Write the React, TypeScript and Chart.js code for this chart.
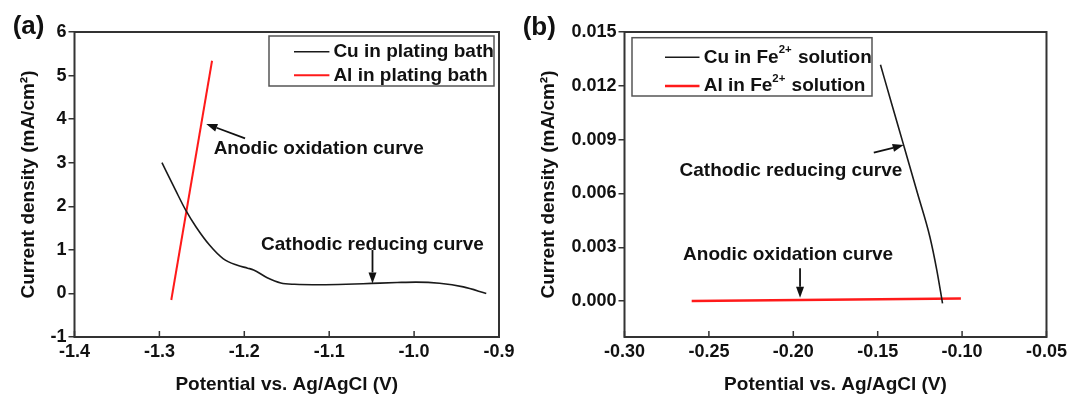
import React, { useEffect, useRef } from 'react';
import { Chart, registerables } from 'chart.js';
Chart.register(...registerables);

const FONT = '"Liberation Sans", Arial, Helvetica, sans-serif';
const INK = '#111';
const AXIS = '#333';

// ---------- Panel (a) data ----------
const cuBathX = [-1.297, -1.281, -1.269, -1.257, -1.241, -1.225, -1.209, -1.196, -1.189, -1.173, -1.157, -1.141, -1.11, -1.08, -1.05, -1.02, -0.998, -0.97, -0.942, -0.915];
const cuBathY = [3.0, 2.37, 1.91, 1.53, 1.11, 0.8, 0.65, 0.58, 0.54, 0.36, 0.24, 0.21, 0.2, 0.21, 0.23, 0.25, 0.26, 0.235, 0.15, 0.0];
const alBathX = [-1.286, -1.238];
const alBathY = [-0.15, 5.34];
const aNotes = [
  { text: 'Anodic oxidation curve', x: -1.2361, y: 3.31 },
  { text: 'Cathodic reducing curve', x: -1.1803, y: 1.11 },
];
const aArrows = [
  { x1: -1.1991, y1: 3.56, x2: -1.2448, y2: 3.89 },
  { x1: -1.049, y1: 0.996, x2: -1.049, y2: 0.23 },
];

// ---------- Panel (b) data ----------
const cuFeX = [-0.14835, -0.14181, -0.13437, -0.12642, -0.1191, -0.11498, -0.1116];
const cuFeY = [0.01317, 0.01103, 0.00861, 0.00601, 0.00359, 0.00173, -0.00012];
const alFeX = [-0.2602, -0.1007];
const alFeY = [0.0, 0.00015];
const bNotes = [
  { text: 'Cathodic reducing curve', x: -0.2674, y: 0.00727 },
  { text: 'Anodic oxidation curve', x: -0.2653, y: 0.00261 },
];
const bArrows = [
  { x1: -0.1523, y1: 0.00827, x2: -0.1346, y2: 0.0087 },
  { x1: -0.196, y1: 0.00183, x2: -0.196, y2: 0.00019 },
];

const toPts = (xs: number[], ys: number[]) => xs.map((x, i) => ({ x, y: ys[i] }));

function drawRich(ctx: CanvasRenderingContext2D, label: string, x: number, y: number, size: number) {
  const parts = label.split('^');
  let cx = x;
  parts.forEach((p, i) => {
    if (!p) return;
    const sup = i % 2 === 1;
    ctx.font = `bold ${sup ? size * 0.6 : size}px ${FONT}`;
    ctx.fillText(p, cx, sup ? y - size * 0.38 : y);
    cx += ctx.measureText(p).width + (sup ? 1 : 0);
  });
}

function drawArrow(ctx: CanvasRenderingContext2D, x1: number, y1: number, x2: number, y2: number) {
  const ang = Math.atan2(y2 - y1, x2 - x1);
  const hl = 11, hw = 4;
  const bx = x2 - hl * Math.cos(ang), by = y2 - hl * Math.sin(ang);
  ctx.strokeStyle = INK;
  ctx.fillStyle = INK;
  ctx.lineWidth = 1.8;
  ctx.beginPath();
  ctx.moveTo(x1, y1);
  ctx.lineTo(bx, by);
  ctx.stroke();
  ctx.beginPath();
  ctx.moveTo(x2, y2);
  ctx.lineTo(bx + hw * Math.sin(ang), by - hw * Math.cos(ang));
  ctx.lineTo(bx - hw * Math.sin(ang), by + hw * Math.cos(ang));
  ctx.closePath();
  ctx.fill();
}

const decorPlugin = {
  id: 'decor',
  afterDraw(chart: any, _args: any, o: any) {
    const ctx: CanvasRenderingContext2D = chart.ctx;
    const { left, right, top, bottom } = chart.chartArea;
    const xs = chart.scales.x, ys = chart.scales.y;
    ctx.save();
    // frame
    ctx.strokeStyle = AXIS;
    ctx.lineWidth = 2;
    ctx.strokeRect(left, top, right - left, bottom - top);
    // inward x ticks
    ctx.lineWidth = 1.5;
    xs.ticks.forEach((_t: any, i: number) => {
      const px = xs.getPixelForTick(i);
      ctx.beginPath();
      ctx.moveTo(px, bottom);
      ctx.lineTo(px, bottom - 6);
      ctx.stroke();
    });
    // arrows
    (o.arrows || []).forEach((a: any) => {
      drawArrow(ctx, xs.getPixelForValue(a.x1), ys.getPixelForValue(a.y1), xs.getPixelForValue(a.x2), ys.getPixelForValue(a.y2));
    });
    // notes
    ctx.fillStyle = INK;
    ctx.textAlign = 'left';
    ctx.textBaseline = 'middle';
    (o.notes || []).forEach((n: any) => {
      ctx.font = `bold ${o.fontSize}px ${FONT}`;
      ctx.fillText(n.text, xs.getPixelForValue(n.x), ys.getPixelForValue(n.y));
    });
    // legend
    const L = o.legend;
    ctx.strokeStyle = '#555';
    ctx.lineWidth = 1.5;
    ctx.strokeRect(L.x1, L.y1, L.x2 - L.x1, L.y2 - L.y1);
    chart.data.datasets.forEach((ds: any, i: number) => {
      const ry = L.rows[i];
      ctx.strokeStyle = ds.borderColor;
      ctx.lineWidth = ds.borderWidth;
      ctx.beginPath();
      ctx.moveTo(L.lx1, ry);
      ctx.lineTo(L.lx2, ry);
      ctx.stroke();
      ctx.fillStyle = INK;
      drawRich(ctx, ds.label, L.tx, ry, o.fontSize);
    });
    // panel label
    ctx.font = `bold ${o.panelSize}px ${FONT}`;
    ctx.fillStyle = INK;
    ctx.fillText(o.panel, o.panelX, o.panelY);
    ctx.restore();
  },
};

function makeConfig(p: any) {
  const tickFont = { family: FONT, size: 18, weight: 'bold' as const };
  const titleFont = { family: FONT, size: 19, weight: 'bold' as const, lineHeight: 1 };
  return {
    type: 'scatter' as const,
    data: {
      datasets: [
        { label: p.cuLabel, data: toPts(p.cuX, p.cuY), showLine: true, borderColor: '#1a1a1a', borderWidth: 1.6, pointRadius: 0, tension: 0.4, cubicInterpolationMode: 'monotone' },
        { label: p.alLabel, data: toPts(p.alX, p.alY), showLine: true, borderColor: '#ff1a1a', borderWidth: p.alWidth, pointRadius: 0 },
      ],
    },
    options: {
      responsive: false,
      animation: false,
      events: [],
      layout: { padding: { left: 0, right: p.padRight, top: 32, bottom: 0 } },
      plugins: {
        legend: { display: false },
        tooltip: { enabled: false },
        decor: p.decor,
      },
      scales: {
        x: {
          type: 'linear',
          min: p.xMin, max: p.xMax,
          ticks: { stepSize: p.xStep, callback: (v: any) => Number(v).toFixed(p.xDec), font: tickFont, color: INK, padding: 4, maxRotation: 0, autoSkip: false },
          grid: { display: false, drawTicks: false },
          border: { display: false },
          title: { display: true, text: 'Potential vs. Ag/AgCl (V)', font: titleFont, color: INK, padding: { top: 0, bottom: 0 } },
          afterFit: (s: any) => { s.height = 57; },
        },
        y: {
          type: 'linear',
          min: p.yMin, max: p.yMax,
          afterBuildTicks: (s: any) => { s.ticks = s.ticks.filter((t: any) => t.value >= p.yFirstTick - 1e-9); },
          ticks: { stepSize: p.yStep, callback: (v: any) => Number(v).toFixed(p.yDec), font: tickFont, color: INK, padding: 2, autoSkip: false },
          grid: { drawOnChartArea: false, drawTicks: true, tickLength: 6, color: AXIS, lineWidth: 1.5 },
          border: { display: false },
          title: { display: true, text: 'Current density (mA/cm²)', font: titleFont, color: INK, padding: { top: p.yTitlePad, bottom: 0 } },
          afterFit: (s: any) => { s.width = p.yWidth; },
        },
      },
    },
    plugins: [decorPlugin],
  };
}

const panelA = {
  cuLabel: 'Cu in plating bath', alLabel: 'Al in plating bath',
  cuX: cuBathX, cuY: cuBathY, alX: alBathX, alY: alBathY, alWidth: 2,
  xMin: -1.4, xMax: -0.9, xStep: 0.1, xDec: 1,
  yMin: -1, yMax: 6, yStep: 1, yDec: 0, yFirstTick: -1,
  padRight: 21, yWidth: 74.5, yTitlePad: 19,
  decor: {
    fontSize: 19, panel: '(a)', panelX: 12.7, panelY: 27, panelSize: 26,
    notes: aNotes, arrows: aArrows,
    legend: { x1: 269, y1: 36, x2: 494, y2: 86, lx1: 294, lx2: 329.4, tx: 333.4, rows: [51.7, 75.3] },
  },
};

const panelB = {
  cuLabel: 'Cu in Fe^2+^ solution', alLabel: 'Al in Fe^2+^ solution',
  cuX: cuFeX, cuY: cuFeY, alX: alFeX, alY: alFeY, alWidth: 2.5,
  xMin: -0.3, xMax: -0.05, xStep: 0.05, xDec: 2,
  yMin: -0.002, yMax: 0.015, yStep: 0.003, yDec: 3, yFirstTick: 0,
  padRight: 22.5, yWidth: 104.5, yTitlePad: 19.5,
  decor: {
    fontSize: 19, panel: '(b)', panelX: 2.7, panelY: 28, panelSize: 26,
    notes: bNotes, arrows: bArrows,
    legend: { x1: 112, y1: 37.7, x2: 352, y2: 96, lx1: 145, lx2: 179.5, tx: 183.7, rows: [57.3, 86] },
  },
};

function Panel({ cfg, width }: { cfg: any; width: number }) {
  const ref = useRef<HTMLCanvasElement>(null);
  useEffect(() => {
    const chart = new Chart(ref.current as HTMLCanvasElement, makeConfig(cfg) as any);
    return () => chart.destroy();
  }, []);
  return <canvas ref={ref} width={width} height={394} style={{ display: 'block', width, height: 394 }} />;
}

export default function App() {
  return (
    <div style={{ position: 'absolute', left: 0, top: 0, width: 1071, height: 394, display: 'flex', background: '#fff' }}>
      <Panel cfg={panelA} width={520} />
      <Panel cfg={panelB} width={551} />
    </div>
  );
}
